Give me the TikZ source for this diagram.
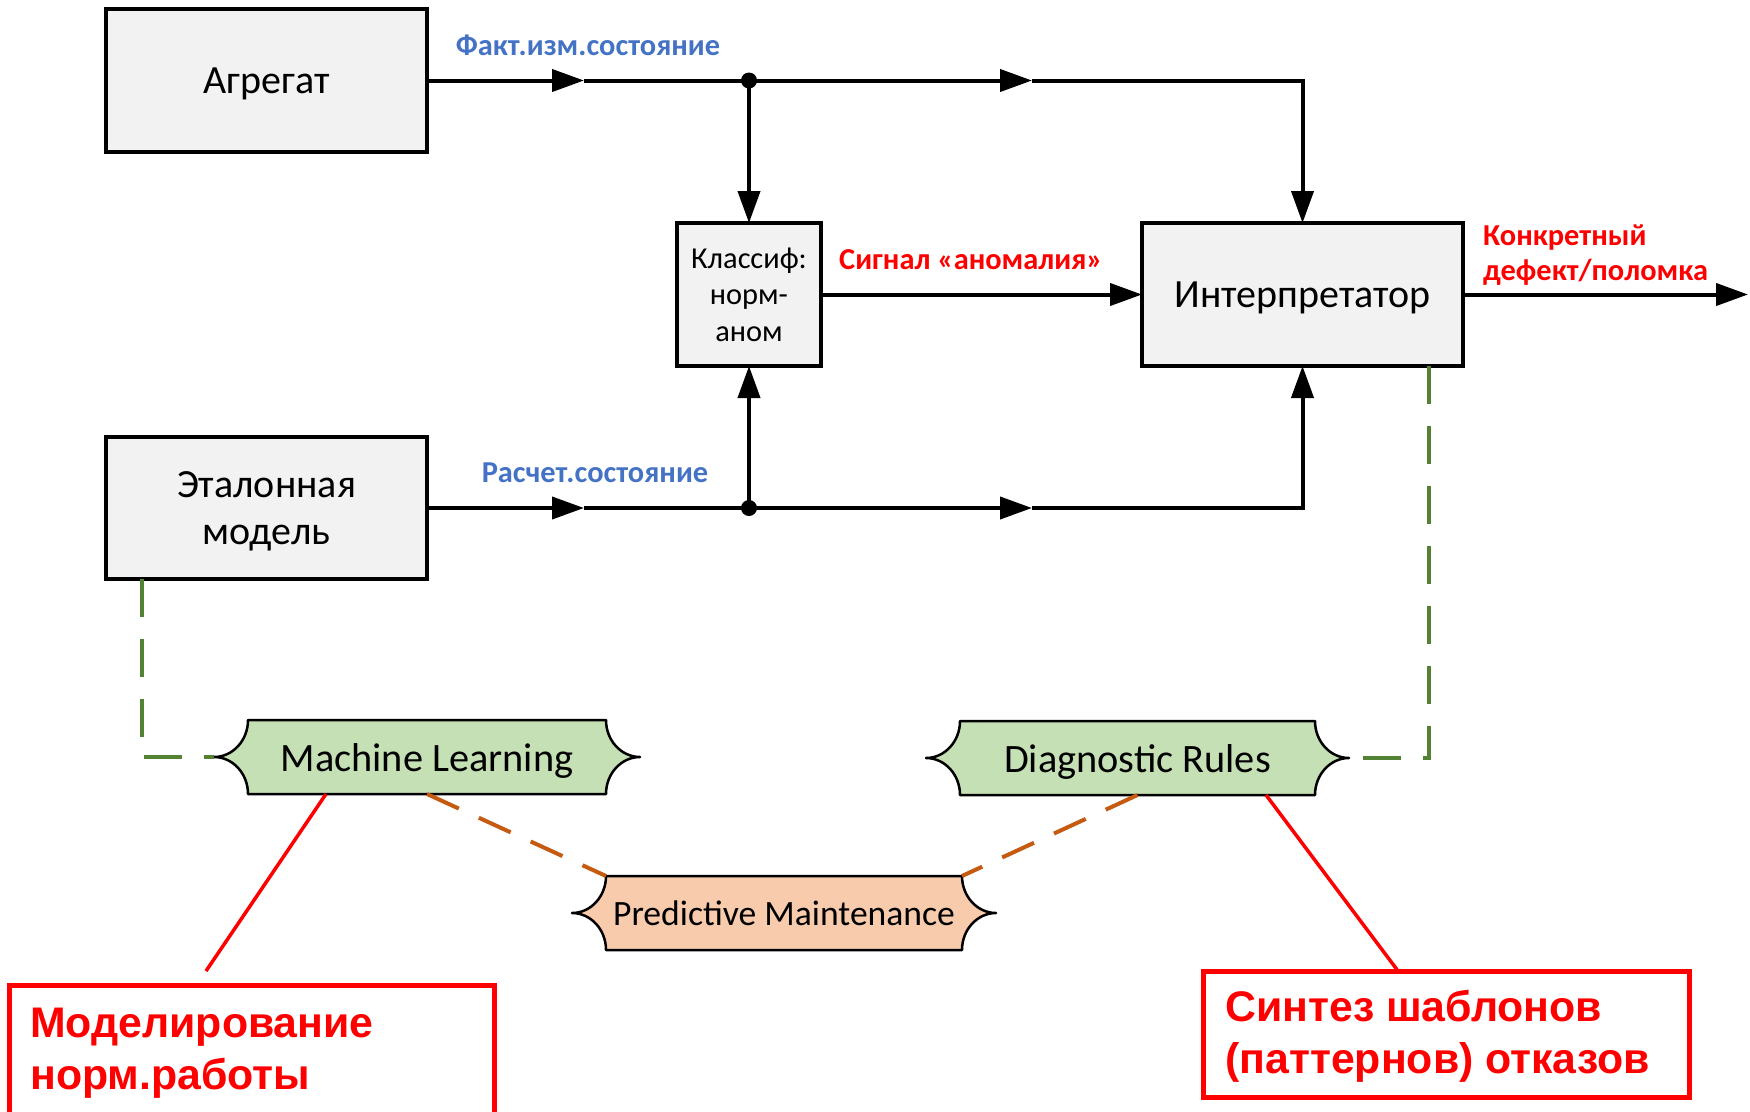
\documentclass[tikz,border=0pt]{standalone}
\usepackage{fontspec}
\setmainfont{Carlito}
\newfontfamily\arialfont{Liberation Sans}
\usetikzlibrary{arrows.meta,backgrounds}
\definecolor{boxgray}{HTML}{F2F2F2}
\definecolor{mlgreen}{HTML}{C5E0B4}
\definecolor{pmorange}{HTML}{F8CBAD}
\definecolor{dashgreen}{HTML}{548235}
\definecolor{dashorange}{HTML}{C55A11}
\definecolor{lblblue}{HTML}{4472C4}
\definecolor{lblred}{HTML}{FF0000}
\newcommand\scrollbg[2]{%
  \path[draw=black, line width=2.5pt, fill=#2, line join=round]
  (#1.north west) -- (#1.north east)
  .. controls +(0,20.4) and +(-18.8,0) .. ++(34,37)
  .. controls +(-18.8,0) and +(0,-20.4) .. ++(-34,37)
  -- (#1.south west)
  .. controls +(0,-20.4) and +(18.8,0) .. ++(-34,-37)
  .. controls +(18.8,0) and +(0,20.4) .. ++(34,-37)
  -- cycle;}
\begin{document}
\begin{tikzpicture}[x=1pt,y=-1pt,
  blk/.style={draw, line width=4.5pt, fill=boxgray, inner sep=0pt, outer sep=0pt,
    align=center, font=\fontsize{40}{47}\selectfont},
  bigblk/.style={blk, minimum width=321, text depth=0pt},
  conn/.style={line width=4pt, -{Triangle[length=32pt,width=22pt]}},
  lbl/.style={inner sep=0pt, font=\bfseries\fontsize{30.4}{35}\selectfont},
  scroll/.style={minimum height=74, inner sep=0pt, outer sep=0pt, font=\fontsize{40.3}{47}\selectfont},
  gdash/.style={draw=dashgreen, line width=3.5pt, dash pattern=on 38pt off 22pt},
  odash/.style={draw=dashorange, line width=4pt, dash pattern=on 35pt off 22pt},
  redline/.style={draw=lblred, line width=3.5pt},
  redbox/.style={draw=lblred, line width=5pt, inner sep=0pt, outer sep=0pt},
  redtxt/.style={text=lblred, inner sep=0pt, align=left,
    font=\arialfont\bfseries\fontsize{42.8}{52}\selectfont}
]
\useasboundingbox (0,0) rectangle (1750,1111);
\clip (0,0) rectangle (1750,1111);

% main blocks
\node[bigblk, minimum height=143] (agr) at (266.5,80.5) {Агрегат};
\node[bigblk, minimum height=142] (etal) at (266.5,508) {Эталонная\\модель};
\node[blk, minimum width=144, minimum height=143, font=\fontsize{30.4}{36.5}\selectfont] (cls) at (749,294.5) {Классиф:\\норм-\\аном};
\node[bigblk, minimum height=143] (intp) at (1302.5,294.5) {Интерпретатор};

% connector points
\coordinate (ta) at (584,80.5);
\coordinate (tj) at (749,80.5);
\coordinate (tb) at (1032,80.5);
\coordinate (ba) at (584,508);
\coordinate (bj) at (749,508);
\coordinate (bb) at (1032,508);
\coordinate (out) at (1748,294.5);

\draw[conn] (agr.east) -- (ta);
\draw[conn] (ta) -- (tb);
\draw[conn] (tb) -| (intp.north);
\draw[conn] (tj) -- (cls.north);
\fill (tj) circle (8);

\draw[conn] (etal.east) -- (ba);
\draw[conn] (ba) -- (bb);
\draw[conn] (bb) -| (intp.south);
\draw[conn] (bj) -- (cls.south);
\fill (bj) circle (8);

\draw[conn] (cls.east) -- (intp.west);
\draw[conn] (intp.east) -- (out);

% labels
\node[lbl, text=lblblue] (lf) at (588,45) {Факт.изм.состояние};
\node[lbl, text=lblblue] (lr) at (595,473) {Расчет.состояние};
\node[lbl, text=lblred] (ls) at (971,260) {Сигнал «аномалия»};
\node[lbl, text=lblred, align=left, anchor=west] (lk) at (1483,255) {Конкретный\\дефект/поломка};

% scroll shapes
\node[scroll, minimum width=358, text depth=0pt] (ml) at (427,757) {Machine Learning};
\node[scroll, minimum width=355, text depth=0pt] (dr) at (1137.5,758) {Diagnostic Rules};
\node[scroll, minimum width=356, font=\fontsize{35.6}{41}\selectfont] (pm) at (784,913) {Predictive Maintenance};
\begin{scope}[on background layer]
\scrollbg{ml}{mlgreen}
\scrollbg{dr}{mlgreen}
\scrollbg{pm}{pmorange}
\end{scope}

% dashed relations
\draw[gdash] ([xshift=36pt]etal.south west) |- ([xshift=-34pt]ml.west);
\draw[gdash] ([xshift=-34pt]intp.south east) |- ([xshift=34pt]dr.east);
\draw[odash] (ml.south) -- (pm.north west);
\draw[odash] (dr.south) -- (pm.north east);

% red notes
\node[redbox, minimum width=485, minimum height=160, anchor=north west] (noteL) at (9,985) {};
\node[redtxt, anchor=west] (noteLt) at (30,1053) {Моделирование\\норм.работы};
\node[redbox, minimum width=486, minimum height=126, anchor=north west] (noteR) at (1203,971) {};
\node[redtxt, anchor=west] (noteRt) at (1225,1036) {Синтез шаблонов\\(паттернов) отказов};

\coordinate (rl) at (206,971);
\draw[redline] ([xshift=78pt]ml.south west) -- (rl);
\draw[redline] ([xshift=306pt]dr.south west) -- ([xshift=195pt]noteR.north west);
\end{tikzpicture}
\end{document}
